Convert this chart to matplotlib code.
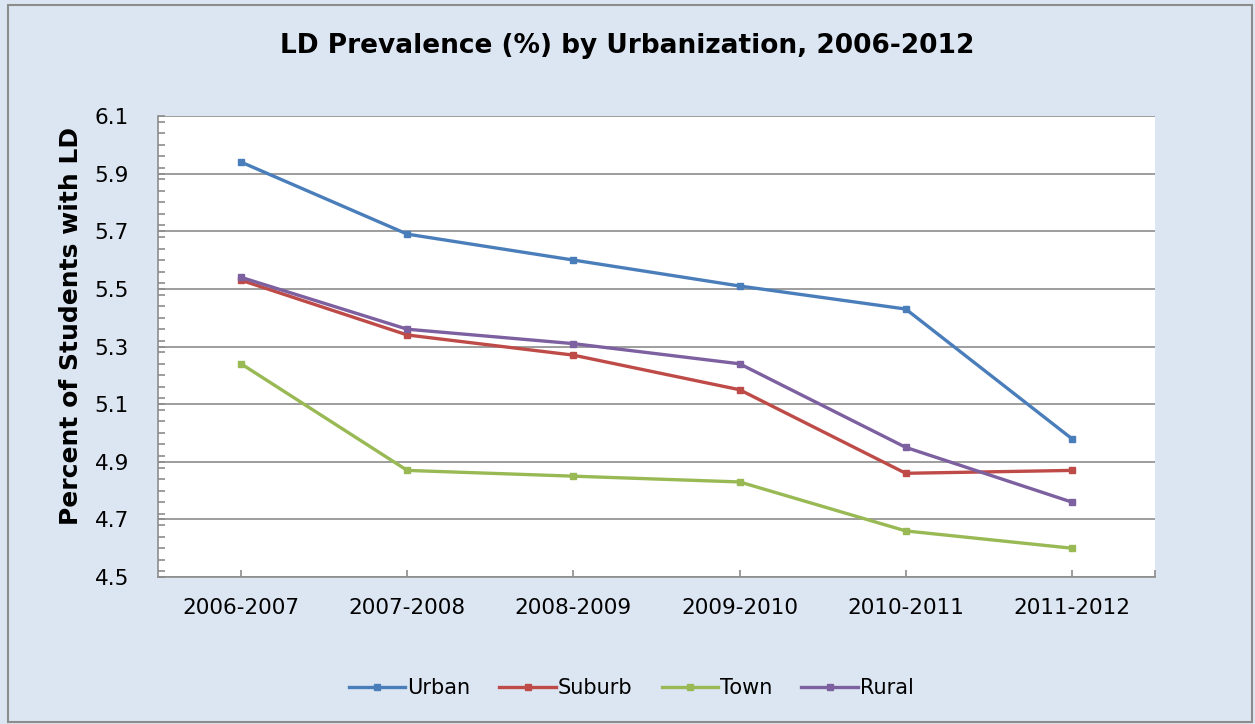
import numpy as np
import matplotlib as mpl
mpl.use('Agg')
import matplotlib.pyplot as plt
from matplotlib.patches import Rectangle
from matplotlib.ticker import MultipleLocator, FixedLocator

# school years on the x axis
years = ['2006-2007', '2007-2008', '2008-2009', '2009-2010', '2010-2011', '2011-2012']

# LD prevalence (%) per urbanization group
urban = [5.94, 5.69, 5.60, 5.51, 5.43, 4.98]
suburb = [5.53, 5.34, 5.27, 5.15, 4.86, 4.87]
town = [5.24, 4.87, 4.85, 4.83, 4.66, 4.60]
rural = [5.54, 5.36, 5.31, 5.24, 4.95, 4.76]

series = [('Urban', urban, '#4A7EBB'),
          ('Suburb', suburb, '#BE4B48'),
          ('Town', town, '#98B954'),
          ('Rural', rural, '#7D60A0')]

plt.rcParams['font.family'] = ['DejaVu Sans']

bg = '#DCE6F2'
fig = plt.figure(figsize=(12.55, 7.24), dpi=100, facecolor=bg)
ax = fig.add_axes([0.1259, 0.2030, 0.7944, 0.6368])
ax.set_facecolor('white')

x = np.arange(len(years))
for name, vals, col in series:
    ax.plot(x, vals, color=col, lw=2.4, marker='s', ms=5, label=name,
            solid_joinstyle='round', zorder=3)

ax.set_xlim(-0.5, len(years) - 0.5)
ax.set_ylim(4.5, 6.1)
yt = np.arange(4.5, 6.11, 0.2)
ax.yaxis.set_major_locator(FixedLocator(yt))
ax.yaxis.set_minor_locator(MultipleLocator(0.04))
ax.set_yticklabels(['%.1f' % v for v in yt])
ax.set_xticks(list(x) + [len(years) - 0.5])
ax.set_xticklabels(years + [''])

ax.grid(axis='y', which='major', color='#8C8C8C', lw=1.2, zorder=1)
for s in ax.spines.values():
    s.set_color('#8C8C8C')
    s.set_linewidth(1.2)
ax.spines['top'].set_visible(False)
ax.spines['right'].set_visible(False)

ax.tick_params(axis='y', which='both', direction='in', length=5, width=1.2,
               color='#8C8C8C', labelsize=15.5, pad=21)
ax.tick_params(axis='x', direction='in', length=5, width=1.2,
               color='#8C8C8C', labelsize=15.5, pad=15)

ax.set_ylabel('Percent of Students with LD', fontsize=18, fontweight='bold')
ax.yaxis.set_label_coords(-0.0752, 0.5445)
fig.text(0.5, 0.937, 'LD Prevalence (%) by Urbanization, 2006-2012',
         ha='center', va='center', fontsize=19, fontweight='bold')

fig.legend(loc='center', bbox_to_anchor=(0.503, 0.05), ncol=4, frameon=False,
           fontsize=15, handlelength=2.7, handletextpad=0.1, columnspacing=1.4)

fig.patches.append(Rectangle((0.006, 0.003), 0.992, 0.99, transform=fig.transFigure,
                             fill=False, edgecolor='#8C8C8C', lw=1.5))

fig.savefig('out.png', dpi=100, facecolor=bg)
